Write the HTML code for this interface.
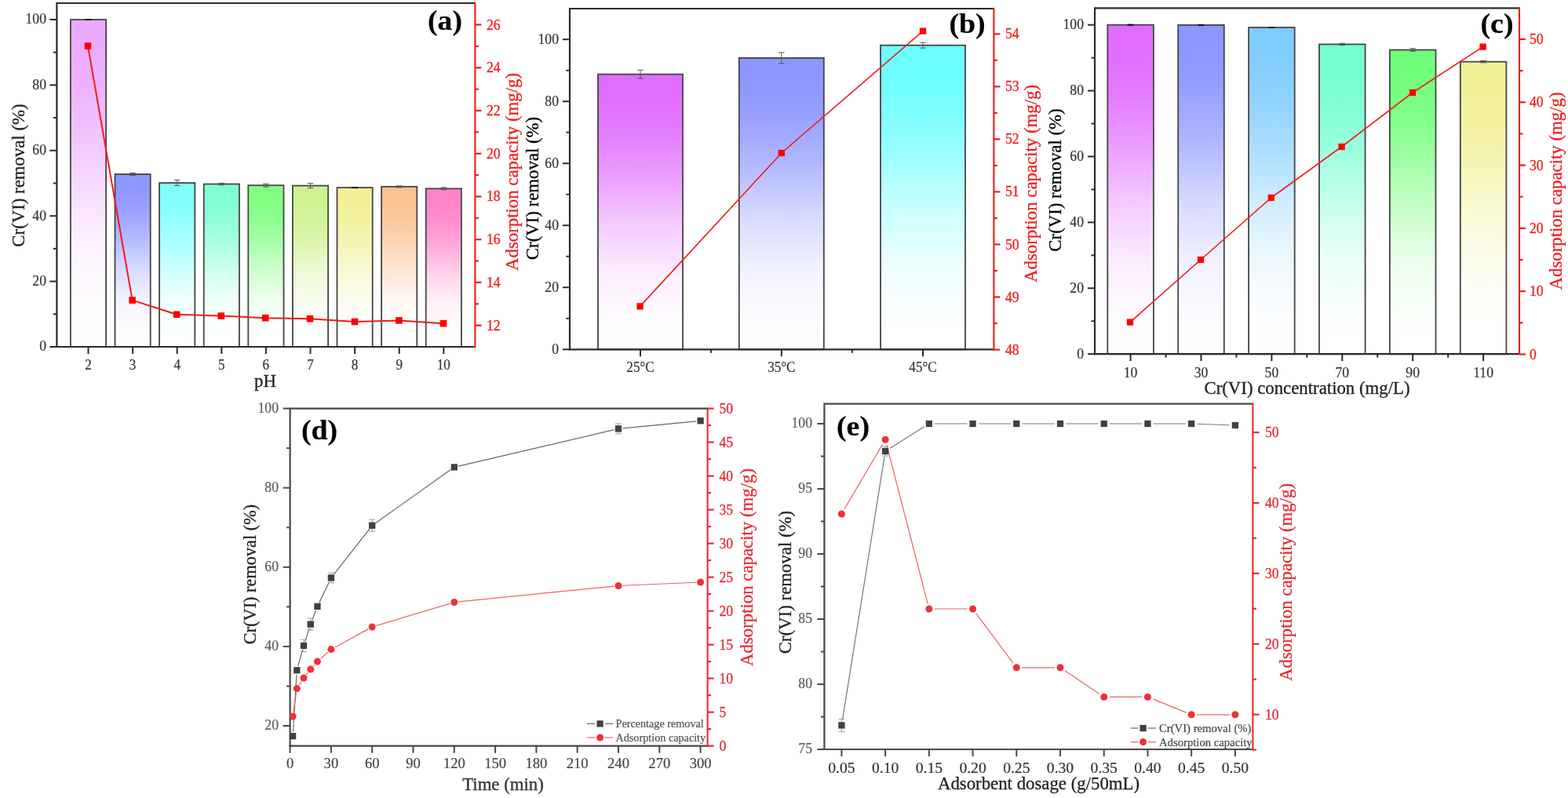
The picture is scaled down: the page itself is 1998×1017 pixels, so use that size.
<!DOCTYPE html>
<html lang="en"><head><meta charset="utf-8"><title>Cr(VI) removal and adsorption capacity</title>
<style>
html,body{margin:0;padding:0;background:#fff;}
body{width:1998px;height:1017px;overflow:hidden;font-family:"Liberation Serif","Times New Roman",serif;}
svg{display:block;}
</style></head><body>
<svg width="1998" height="1017" viewBox="0 0 1998 1017" font-family="'Liberation Serif', 'Times New Roman', serif">
<defs><linearGradient id="g1" x1="0" y1="0" x2="0" y2="1"><stop offset="0" stop-color="#ecaaff"/><stop offset="0.1" stop-color="#ecacff"/><stop offset="0.2" stop-color="#eeb2ff"/><stop offset="0.36" stop-color="#f2c5ff"/><stop offset="0.54" stop-color="#f8e0ff"/><stop offset="0.72" stop-color="#fdf5ff"/><stop offset="0.9" stop-color="#fffeff"/><stop offset="1" stop-color="#ffffff"/></linearGradient><linearGradient id="g2" x1="0" y1="0" x2="0" y2="1"><stop offset="0" stop-color="#8e96ff"/><stop offset="0.1" stop-color="#9098ff"/><stop offset="0.2" stop-color="#99a0ff"/><stop offset="0.36" stop-color="#b2b8ff"/><stop offset="0.54" stop-color="#d6d9ff"/><stop offset="0.72" stop-color="#f1f2ff"/><stop offset="0.9" stop-color="#fdfdff"/><stop offset="1" stop-color="#ffffff"/></linearGradient><linearGradient id="g3" x1="0" y1="0" x2="0" y2="1"><stop offset="0" stop-color="#80ffff"/><stop offset="0.1" stop-color="#83ffff"/><stop offset="0.2" stop-color="#8dffff"/><stop offset="0.36" stop-color="#a9ffff"/><stop offset="0.54" stop-color="#d1ffff"/><stop offset="0.72" stop-color="#f0ffff"/><stop offset="0.9" stop-color="#fdffff"/><stop offset="1" stop-color="#ffffff"/></linearGradient><linearGradient id="g4" x1="0" y1="0" x2="0" y2="1"><stop offset="0" stop-color="#80ffd2"/><stop offset="0.1" stop-color="#83ffd3"/><stop offset="0.2" stop-color="#8dffd6"/><stop offset="0.36" stop-color="#a9ffe0"/><stop offset="0.54" stop-color="#d1ffef"/><stop offset="0.72" stop-color="#f0fffa"/><stop offset="0.9" stop-color="#fdfffe"/><stop offset="1" stop-color="#ffffff"/></linearGradient><linearGradient id="g5" x1="0" y1="0" x2="0" y2="1"><stop offset="0" stop-color="#80ff80"/><stop offset="0.1" stop-color="#83ff83"/><stop offset="0.2" stop-color="#8dff8d"/><stop offset="0.36" stop-color="#a9ffa9"/><stop offset="0.54" stop-color="#d1ffd1"/><stop offset="0.72" stop-color="#f0fff0"/><stop offset="0.9" stop-color="#fdfffd"/><stop offset="1" stop-color="#ffffff"/></linearGradient><linearGradient id="g6" x1="0" y1="0" x2="0" y2="1"><stop offset="0" stop-color="#cdf28e"/><stop offset="0.1" stop-color="#cef290"/><stop offset="0.2" stop-color="#d2f399"/><stop offset="0.36" stop-color="#ddf6b2"/><stop offset="0.54" stop-color="#edfad6"/><stop offset="0.72" stop-color="#f9fdf1"/><stop offset="0.9" stop-color="#fefffd"/><stop offset="1" stop-color="#ffffff"/></linearGradient><linearGradient id="g7" x1="0" y1="0" x2="0" y2="1"><stop offset="0" stop-color="#f2f096"/><stop offset="0.1" stop-color="#f2f098"/><stop offset="0.2" stop-color="#f3f2a0"/><stop offset="0.36" stop-color="#f6f5b8"/><stop offset="0.54" stop-color="#fafad9"/><stop offset="0.72" stop-color="#fdfdf2"/><stop offset="0.9" stop-color="#fffffd"/><stop offset="1" stop-color="#ffffff"/></linearGradient><linearGradient id="g8" x1="0" y1="0" x2="0" y2="1"><stop offset="0" stop-color="#f9c291"/><stop offset="0.1" stop-color="#f9c393"/><stop offset="0.2" stop-color="#fac89c"/><stop offset="0.36" stop-color="#fbd6b4"/><stop offset="0.54" stop-color="#fde9d7"/><stop offset="0.72" stop-color="#fef8f2"/><stop offset="0.9" stop-color="#fffefd"/><stop offset="1" stop-color="#ffffff"/></linearGradient><linearGradient id="g9" x1="0" y1="0" x2="0" y2="1"><stop offset="0" stop-color="#ff82c8"/><stop offset="0.1" stop-color="#ff84c9"/><stop offset="0.2" stop-color="#ff8ece"/><stop offset="0.36" stop-color="#ffaada"/><stop offset="0.54" stop-color="#ffd2eb"/><stop offset="0.72" stop-color="#fff0f8"/><stop offset="0.9" stop-color="#fffdfe"/><stop offset="1" stop-color="#ffffff"/></linearGradient><linearGradient id="g10" x1="0" y1="0" x2="0" y2="1"><stop offset="0" stop-color="#e06cff"/><stop offset="0.1" stop-color="#e16fff"/><stop offset="0.2" stop-color="#e37bff"/><stop offset="0.36" stop-color="#ea9bff"/><stop offset="0.54" stop-color="#f4caff"/><stop offset="0.72" stop-color="#fbedff"/><stop offset="0.9" stop-color="#fffdff"/><stop offset="1" stop-color="#ffffff"/></linearGradient><linearGradient id="g11" x1="0" y1="0" x2="0" y2="1"><stop offset="0" stop-color="#8c96ff"/><stop offset="0.1" stop-color="#8e98ff"/><stop offset="0.2" stop-color="#98a0ff"/><stop offset="0.36" stop-color="#b1b8ff"/><stop offset="0.54" stop-color="#d6d9ff"/><stop offset="0.72" stop-color="#f1f2ff"/><stop offset="0.9" stop-color="#fdfdff"/><stop offset="1" stop-color="#ffffff"/></linearGradient><linearGradient id="g12" x1="0" y1="0" x2="0" y2="1"><stop offset="0" stop-color="#6cffff"/><stop offset="0.1" stop-color="#6fffff"/><stop offset="0.2" stop-color="#7bffff"/><stop offset="0.36" stop-color="#9bffff"/><stop offset="0.54" stop-color="#caffff"/><stop offset="0.72" stop-color="#edffff"/><stop offset="0.9" stop-color="#fdffff"/><stop offset="1" stop-color="#ffffff"/></linearGradient><linearGradient id="g13" x1="0" y1="0" x2="0" y2="1"><stop offset="0" stop-color="#e06cff"/><stop offset="0.1" stop-color="#e16fff"/><stop offset="0.2" stop-color="#e37bff"/><stop offset="0.36" stop-color="#ea9bff"/><stop offset="0.54" stop-color="#f4caff"/><stop offset="0.72" stop-color="#fbedff"/><stop offset="0.9" stop-color="#fffdff"/><stop offset="1" stop-color="#ffffff"/></linearGradient><linearGradient id="g14" x1="0" y1="0" x2="0" y2="1"><stop offset="0" stop-color="#8c96ff"/><stop offset="0.1" stop-color="#8e98ff"/><stop offset="0.2" stop-color="#98a0ff"/><stop offset="0.36" stop-color="#b1b8ff"/><stop offset="0.54" stop-color="#d6d9ff"/><stop offset="0.72" stop-color="#f1f2ff"/><stop offset="0.9" stop-color="#fdfdff"/><stop offset="1" stop-color="#ffffff"/></linearGradient><linearGradient id="g15" x1="0" y1="0" x2="0" y2="1"><stop offset="0" stop-color="#80ccff"/><stop offset="0.1" stop-color="#83cdff"/><stop offset="0.2" stop-color="#8dd1ff"/><stop offset="0.36" stop-color="#a9dcff"/><stop offset="0.54" stop-color="#d1edff"/><stop offset="0.72" stop-color="#f0f9ff"/><stop offset="0.9" stop-color="#fdfeff"/><stop offset="1" stop-color="#ffffff"/></linearGradient><linearGradient id="g16" x1="0" y1="0" x2="0" y2="1"><stop offset="0" stop-color="#74ffd0"/><stop offset="0.1" stop-color="#77ffd1"/><stop offset="0.2" stop-color="#82ffd5"/><stop offset="0.36" stop-color="#a0ffdf"/><stop offset="0.54" stop-color="#cdffee"/><stop offset="0.72" stop-color="#eefff9"/><stop offset="0.9" stop-color="#fdfffe"/><stop offset="1" stop-color="#ffffff"/></linearGradient><linearGradient id="g17" x1="0" y1="0" x2="0" y2="1"><stop offset="0" stop-color="#70ff78"/><stop offset="0.1" stop-color="#73ff7b"/><stop offset="0.2" stop-color="#7eff86"/><stop offset="0.36" stop-color="#9effa3"/><stop offset="0.54" stop-color="#ccffce"/><stop offset="0.72" stop-color="#eeffef"/><stop offset="0.9" stop-color="#fdfffd"/><stop offset="1" stop-color="#ffffff"/></linearGradient><linearGradient id="g18" x1="0" y1="0" x2="0" y2="1"><stop offset="0" stop-color="#f2f096"/><stop offset="0.1" stop-color="#f2f098"/><stop offset="0.2" stop-color="#f3f2a0"/><stop offset="0.36" stop-color="#f6f5b8"/><stop offset="0.54" stop-color="#fafad9"/><stop offset="0.72" stop-color="#fdfdf2"/><stop offset="0.9" stop-color="#fffffd"/><stop offset="1" stop-color="#ffffff"/></linearGradient><filter id="b5" filterUnits="userSpaceOnUse" x="0" y="0" width="1998" height="1017"><feGaussianBlur stdDeviation="0.5"/></filter><filter id="b4" filterUnits="userSpaceOnUse" x="0" y="0" width="1998" height="1017"><feGaussianBlur stdDeviation="0.55"/></filter><filter id="b3" filterUnits="userSpaceOnUse" x="0" y="0" width="1998" height="1017"><feGaussianBlur stdDeviation="0.6"/></filter><filter id="b1" filterUnits="userSpaceOnUse" x="0" y="0" width="1998" height="1017"><feGaussianBlur stdDeviation="0.75"/></filter><filter id="b2" filterUnits="userSpaceOnUse" x="0" y="0" width="1998" height="1017"><feGaussianBlur stdDeviation="0.45"/></filter></defs>
<rect x="0" y="0" width="1998" height="1017" fill="#ffffff"/>
<g filter="url(#b1)">
<rect x="89.9" y="25" width="45.2" height="417" fill="url(#g1)" stroke="#444444" stroke-width="1.8"/>
<rect x="146.5" y="222.03" width="45.2" height="219.97" fill="url(#g2)" stroke="#444444" stroke-width="1.8"/>
<rect x="203.1" y="233.08" width="45.2" height="208.92" fill="url(#g3)" stroke="#444444" stroke-width="1.8"/>
<rect x="259.7" y="234.54" width="45.2" height="207.46" fill="url(#g4)" stroke="#444444" stroke-width="1.8"/>
<rect x="316.3" y="236.21" width="45.2" height="205.79" fill="url(#g5)" stroke="#444444" stroke-width="1.8"/>
<rect x="372.9" y="236.63" width="45.2" height="205.37" fill="url(#g6)" stroke="#444444" stroke-width="1.8"/>
<rect x="429.5" y="239.13" width="45.2" height="202.87" fill="url(#g7)" stroke="#444444" stroke-width="1.8"/>
<rect x="486.1" y="237.88" width="45.2" height="204.12" fill="url(#g8)" stroke="#444444" stroke-width="1.8"/>
<rect x="542.7" y="240.38" width="45.2" height="201.62" fill="url(#g9)" stroke="#444444" stroke-width="1.8"/>
<line x1="108.5" y1="25" x2="116.5" y2="25" stroke="#111" stroke-width="2"/>
<line x1="169.1" y1="220.53" x2="169.1" y2="223.53" stroke="#555" stroke-width="1"/>
<line x1="165.35" y1="220.53" x2="172.85" y2="220.53" stroke="#555" stroke-width="1"/>
<line x1="165.35" y1="223.53" x2="172.85" y2="223.53" stroke="#555" stroke-width="1"/>
<line x1="225.7" y1="229.58" x2="225.7" y2="236.58" stroke="#555" stroke-width="1"/>
<line x1="221.95" y1="229.58" x2="229.45" y2="229.58" stroke="#555" stroke-width="1"/>
<line x1="221.95" y1="236.58" x2="229.45" y2="236.58" stroke="#555" stroke-width="1"/>
<line x1="282.3" y1="233.34" x2="282.3" y2="235.74" stroke="#555" stroke-width="1"/>
<line x1="278.55" y1="233.34" x2="286.05" y2="233.34" stroke="#555" stroke-width="1"/>
<line x1="278.55" y1="235.74" x2="286.05" y2="235.74" stroke="#555" stroke-width="1"/>
<line x1="338.9" y1="234.21" x2="338.9" y2="238.21" stroke="#555" stroke-width="1"/>
<line x1="335.15" y1="234.21" x2="342.65" y2="234.21" stroke="#555" stroke-width="1"/>
<line x1="335.15" y1="238.21" x2="342.65" y2="238.21" stroke="#555" stroke-width="1"/>
<line x1="395.5" y1="233.63" x2="395.5" y2="239.63" stroke="#555" stroke-width="1"/>
<line x1="391.75" y1="233.63" x2="399.25" y2="233.63" stroke="#555" stroke-width="1"/>
<line x1="391.75" y1="239.63" x2="399.25" y2="239.63" stroke="#555" stroke-width="1"/>
<line x1="448.1" y1="239.13" x2="456.1" y2="239.13" stroke="#111" stroke-width="2"/>
<line x1="508.7" y1="236.88" x2="508.7" y2="238.88" stroke="#555" stroke-width="1"/>
<line x1="504.95" y1="236.88" x2="512.45" y2="236.88" stroke="#555" stroke-width="1"/>
<line x1="504.95" y1="238.88" x2="512.45" y2="238.88" stroke="#555" stroke-width="1"/>
<line x1="565.3" y1="238.88" x2="565.3" y2="241.88" stroke="#555" stroke-width="1"/>
<line x1="561.55" y1="238.88" x2="569.05" y2="238.88" stroke="#555" stroke-width="1"/>
<line x1="561.55" y1="241.88" x2="569.05" y2="241.88" stroke="#555" stroke-width="1"/>
<line x1="72.4" y1="4" x2="605.4" y2="4" stroke="#2c2c2c" stroke-width="2.2"/>
<line x1="71.3" y1="442" x2="605.4" y2="442" stroke="#2c2c2c" stroke-width="2.2"/>
<line x1="72.4" y1="2.9" x2="72.4" y2="443.1" stroke="#2c2c2c" stroke-width="2.2"/>
<line x1="63.4" y1="442" x2="72.4" y2="442" stroke="#2c2c2c" stroke-width="2"/>
<line x1="67.9" y1="400.3" x2="72.4" y2="400.3" stroke="#2c2c2c" stroke-width="2"/>
<line x1="63.4" y1="358.6" x2="72.4" y2="358.6" stroke="#2c2c2c" stroke-width="2"/>
<line x1="67.9" y1="316.9" x2="72.4" y2="316.9" stroke="#2c2c2c" stroke-width="2"/>
<line x1="63.4" y1="275.2" x2="72.4" y2="275.2" stroke="#2c2c2c" stroke-width="2"/>
<line x1="67.9" y1="233.5" x2="72.4" y2="233.5" stroke="#2c2c2c" stroke-width="2"/>
<line x1="63.4" y1="191.8" x2="72.4" y2="191.8" stroke="#2c2c2c" stroke-width="2"/>
<line x1="67.9" y1="150.1" x2="72.4" y2="150.1" stroke="#2c2c2c" stroke-width="2"/>
<line x1="63.4" y1="108.4" x2="72.4" y2="108.4" stroke="#2c2c2c" stroke-width="2"/>
<line x1="67.9" y1="66.7" x2="72.4" y2="66.7" stroke="#2c2c2c" stroke-width="2"/>
<line x1="63.4" y1="25" x2="72.4" y2="25" stroke="#2c2c2c" stroke-width="2"/>
<line x1="112.5" y1="442" x2="112.5" y2="451" stroke="#2c2c2c" stroke-width="2"/>
<line x1="169.1" y1="442" x2="169.1" y2="451" stroke="#2c2c2c" stroke-width="2"/>
<line x1="225.7" y1="442" x2="225.7" y2="451" stroke="#2c2c2c" stroke-width="2"/>
<line x1="282.3" y1="442" x2="282.3" y2="451" stroke="#2c2c2c" stroke-width="2"/>
<line x1="338.9" y1="442" x2="338.9" y2="451" stroke="#2c2c2c" stroke-width="2"/>
<line x1="395.5" y1="442" x2="395.5" y2="451" stroke="#2c2c2c" stroke-width="2"/>
<line x1="452.1" y1="442" x2="452.1" y2="451" stroke="#2c2c2c" stroke-width="2"/>
<line x1="508.7" y1="442" x2="508.7" y2="451" stroke="#2c2c2c" stroke-width="2"/>
<line x1="565.3" y1="442" x2="565.3" y2="451" stroke="#2c2c2c" stroke-width="2"/>
<rect x="762" y="94.65" width="108" height="350.65" fill="url(#g10)" stroke="#444444" stroke-width="1.8"/>
<rect x="941.8" y="73.91" width="108" height="371.39" fill="url(#g11)" stroke="#444444" stroke-width="1.8"/>
<rect x="1122" y="57.71" width="108" height="387.59" fill="url(#g12)" stroke="#444444" stroke-width="1.8"/>
<line x1="816" y1="89.35" x2="816" y2="99.95" stroke="#555" stroke-width="1"/>
<line x1="812.25" y1="89.35" x2="819.75" y2="89.35" stroke="#555" stroke-width="1"/>
<line x1="812.25" y1="99.95" x2="819.75" y2="99.95" stroke="#555" stroke-width="1"/>
<line x1="995.8" y1="67.01" x2="995.8" y2="80.81" stroke="#555" stroke-width="1"/>
<line x1="992.05" y1="67.01" x2="999.55" y2="67.01" stroke="#555" stroke-width="1"/>
<line x1="992.05" y1="80.81" x2="999.55" y2="80.81" stroke="#555" stroke-width="1"/>
<line x1="1176" y1="54.21" x2="1176" y2="61.21" stroke="#555" stroke-width="1"/>
<line x1="1172.25" y1="54.21" x2="1179.75" y2="54.21" stroke="#555" stroke-width="1"/>
<line x1="1172.25" y1="61.21" x2="1179.75" y2="61.21" stroke="#555" stroke-width="1"/>
<line x1="726" y1="11" x2="1266.4" y2="11" stroke="#2c2c2c" stroke-width="2.2"/>
<line x1="724.9" y1="445.3" x2="1266.4" y2="445.3" stroke="#2c2c2c" stroke-width="2.2"/>
<line x1="726" y1="9.9" x2="726" y2="446.4" stroke="#2c2c2c" stroke-width="2.2"/>
<line x1="717" y1="445.3" x2="726" y2="445.3" stroke="#2c2c2c" stroke-width="2"/>
<line x1="721.5" y1="405.79" x2="726" y2="405.79" stroke="#2c2c2c" stroke-width="2"/>
<line x1="717" y1="366.28" x2="726" y2="366.28" stroke="#2c2c2c" stroke-width="2"/>
<line x1="721.5" y1="326.77" x2="726" y2="326.77" stroke="#2c2c2c" stroke-width="2"/>
<line x1="717" y1="287.26" x2="726" y2="287.26" stroke="#2c2c2c" stroke-width="2"/>
<line x1="721.5" y1="247.75" x2="726" y2="247.75" stroke="#2c2c2c" stroke-width="2"/>
<line x1="717" y1="208.24" x2="726" y2="208.24" stroke="#2c2c2c" stroke-width="2"/>
<line x1="721.5" y1="168.73" x2="726" y2="168.73" stroke="#2c2c2c" stroke-width="2"/>
<line x1="717" y1="129.22" x2="726" y2="129.22" stroke="#2c2c2c" stroke-width="2"/>
<line x1="721.5" y1="89.71" x2="726" y2="89.71" stroke="#2c2c2c" stroke-width="2"/>
<line x1="717" y1="50.2" x2="726" y2="50.2" stroke="#2c2c2c" stroke-width="2"/>
<line x1="816" y1="445.3" x2="816" y2="454.3" stroke="#2c2c2c" stroke-width="2"/>
<line x1="905.9" y1="445.3" x2="905.9" y2="449.8" stroke="#2c2c2c" stroke-width="2"/>
<line x1="995.8" y1="445.3" x2="995.8" y2="454.3" stroke="#2c2c2c" stroke-width="2"/>
<line x1="1085.9" y1="445.3" x2="1085.9" y2="449.8" stroke="#2c2c2c" stroke-width="2"/>
<line x1="1176" y1="445.3" x2="1176" y2="454.3" stroke="#2c2c2c" stroke-width="2"/>
<rect x="1411.3" y="31.7" width="58.6" height="419.5" fill="url(#g13)" stroke="#444444" stroke-width="1.8"/>
<rect x="1501.2" y="31.91" width="58.6" height="419.29" fill="url(#g14)" stroke="#444444" stroke-width="1.8"/>
<rect x="1591.1" y="35.06" width="58.6" height="416.14" fill="url(#g15)" stroke="#444444" stroke-width="1.8"/>
<rect x="1681" y="56.45" width="58.6" height="394.75" fill="url(#g16)" stroke="#444444" stroke-width="1.8"/>
<rect x="1770.9" y="63.58" width="58.6" height="387.62" fill="url(#g17)" stroke="#444444" stroke-width="1.8"/>
<rect x="1860.8" y="78.68" width="58.6" height="372.52" fill="url(#g18)" stroke="#444444" stroke-width="1.8"/>
<line x1="1436.6" y1="31.7" x2="1444.6" y2="31.7" stroke="#111" stroke-width="2"/>
<line x1="1526.5" y1="31.91" x2="1534.5" y2="31.91" stroke="#111" stroke-width="2"/>
<line x1="1616.4" y1="35.06" x2="1624.4" y2="35.06" stroke="#111" stroke-width="2"/>
<line x1="1710.3" y1="55.25" x2="1710.3" y2="57.65" stroke="#555" stroke-width="1"/>
<line x1="1706.55" y1="55.25" x2="1714.05" y2="55.25" stroke="#555" stroke-width="1"/>
<line x1="1706.55" y1="57.65" x2="1714.05" y2="57.65" stroke="#555" stroke-width="1"/>
<line x1="1800.2" y1="61.78" x2="1800.2" y2="65.38" stroke="#555" stroke-width="1"/>
<line x1="1796.45" y1="61.78" x2="1803.95" y2="61.78" stroke="#555" stroke-width="1"/>
<line x1="1796.45" y1="65.38" x2="1803.95" y2="65.38" stroke="#555" stroke-width="1"/>
<line x1="1890.1" y1="77.48" x2="1890.1" y2="79.88" stroke="#555" stroke-width="1"/>
<line x1="1886.35" y1="77.48" x2="1893.85" y2="77.48" stroke="#555" stroke-width="1"/>
<line x1="1886.35" y1="79.88" x2="1893.85" y2="79.88" stroke="#555" stroke-width="1"/>
<line x1="1395" y1="10.4" x2="1936" y2="10.4" stroke="#2c2c2c" stroke-width="2.2"/>
<line x1="1393.9" y1="451.2" x2="1936" y2="451.2" stroke="#2c2c2c" stroke-width="2.2"/>
<line x1="1395" y1="9.3" x2="1395" y2="452.3" stroke="#2c2c2c" stroke-width="2.2"/>
<line x1="1386" y1="451.2" x2="1395" y2="451.2" stroke="#2c2c2c" stroke-width="2"/>
<line x1="1390.5" y1="409.25" x2="1395" y2="409.25" stroke="#2c2c2c" stroke-width="2"/>
<line x1="1386" y1="367.3" x2="1395" y2="367.3" stroke="#2c2c2c" stroke-width="2"/>
<line x1="1390.5" y1="325.35" x2="1395" y2="325.35" stroke="#2c2c2c" stroke-width="2"/>
<line x1="1386" y1="283.4" x2="1395" y2="283.4" stroke="#2c2c2c" stroke-width="2"/>
<line x1="1390.5" y1="241.45" x2="1395" y2="241.45" stroke="#2c2c2c" stroke-width="2"/>
<line x1="1386" y1="199.5" x2="1395" y2="199.5" stroke="#2c2c2c" stroke-width="2"/>
<line x1="1390.5" y1="157.55" x2="1395" y2="157.55" stroke="#2c2c2c" stroke-width="2"/>
<line x1="1386" y1="115.6" x2="1395" y2="115.6" stroke="#2c2c2c" stroke-width="2"/>
<line x1="1390.5" y1="73.65" x2="1395" y2="73.65" stroke="#2c2c2c" stroke-width="2"/>
<line x1="1386" y1="31.7" x2="1395" y2="31.7" stroke="#2c2c2c" stroke-width="2"/>
<line x1="1440.6" y1="451.2" x2="1440.6" y2="460.2" stroke="#2c2c2c" stroke-width="2"/>
<line x1="1485.56" y1="451.2" x2="1485.56" y2="455.7" stroke="#2c2c2c" stroke-width="2"/>
<line x1="1530.5" y1="451.2" x2="1530.5" y2="460.2" stroke="#2c2c2c" stroke-width="2"/>
<line x1="1575.46" y1="451.2" x2="1575.46" y2="455.7" stroke="#2c2c2c" stroke-width="2"/>
<line x1="1620.4" y1="451.2" x2="1620.4" y2="460.2" stroke="#2c2c2c" stroke-width="2"/>
<line x1="1665.36" y1="451.2" x2="1665.36" y2="455.7" stroke="#2c2c2c" stroke-width="2"/>
<line x1="1710.3" y1="451.2" x2="1710.3" y2="460.2" stroke="#2c2c2c" stroke-width="2"/>
<line x1="1755.26" y1="451.2" x2="1755.26" y2="455.7" stroke="#2c2c2c" stroke-width="2"/>
<line x1="1800.2" y1="451.2" x2="1800.2" y2="460.2" stroke="#2c2c2c" stroke-width="2"/>
<line x1="1845.16" y1="451.2" x2="1845.16" y2="455.7" stroke="#2c2c2c" stroke-width="2"/>
<line x1="1890.1" y1="451.2" x2="1890.1" y2="460.2" stroke="#2c2c2c" stroke-width="2"/>
<line x1="369.6" y1="520.6" x2="901.6" y2="520.6" stroke="#484848" stroke-width="2.2"/>
<line x1="368.5" y1="950.6" x2="901.6" y2="950.6" stroke="#484848" stroke-width="2.2"/>
<line x1="369.6" y1="519.5" x2="369.6" y2="951.7" stroke="#484848" stroke-width="2.2"/>
<line x1="360.6" y1="925" x2="369.6" y2="925" stroke="#484848" stroke-width="2"/>
<line x1="365.1" y1="874.45" x2="369.6" y2="874.45" stroke="#484848" stroke-width="2"/>
<line x1="360.6" y1="823.9" x2="369.6" y2="823.9" stroke="#484848" stroke-width="2"/>
<line x1="365.1" y1="773.35" x2="369.6" y2="773.35" stroke="#484848" stroke-width="2"/>
<line x1="360.6" y1="722.8" x2="369.6" y2="722.8" stroke="#484848" stroke-width="2"/>
<line x1="365.1" y1="672.25" x2="369.6" y2="672.25" stroke="#484848" stroke-width="2"/>
<line x1="360.6" y1="621.7" x2="369.6" y2="621.7" stroke="#484848" stroke-width="2"/>
<line x1="365.1" y1="571.15" x2="369.6" y2="571.15" stroke="#484848" stroke-width="2"/>
<line x1="360.6" y1="520.6" x2="369.6" y2="520.6" stroke="#484848" stroke-width="2"/>
<line x1="369.6" y1="950.6" x2="369.6" y2="959.6" stroke="#484848" stroke-width="2"/>
<line x1="421.9" y1="950.6" x2="421.9" y2="959.6" stroke="#484848" stroke-width="2"/>
<line x1="474.2" y1="950.6" x2="474.2" y2="959.6" stroke="#484848" stroke-width="2"/>
<line x1="526.5" y1="950.6" x2="526.5" y2="959.6" stroke="#484848" stroke-width="2"/>
<line x1="578.8" y1="950.6" x2="578.8" y2="959.6" stroke="#484848" stroke-width="2"/>
<line x1="631.1" y1="950.6" x2="631.1" y2="959.6" stroke="#484848" stroke-width="2"/>
<line x1="683.39" y1="950.6" x2="683.39" y2="959.6" stroke="#484848" stroke-width="2"/>
<line x1="735.69" y1="950.6" x2="735.69" y2="959.6" stroke="#484848" stroke-width="2"/>
<line x1="787.99" y1="950.6" x2="787.99" y2="959.6" stroke="#484848" stroke-width="2"/>
<line x1="840.29" y1="950.6" x2="840.29" y2="959.6" stroke="#484848" stroke-width="2"/>
<line x1="892.59" y1="950.6" x2="892.59" y2="959.6" stroke="#484848" stroke-width="2"/>
<line x1="1050.4" y1="514.6" x2="1596.4" y2="514.6" stroke="#484848" stroke-width="2.2"/>
<line x1="1049.3" y1="955" x2="1596.4" y2="955" stroke="#484848" stroke-width="2.2"/>
<line x1="1050.4" y1="513.5" x2="1050.4" y2="956.1" stroke="#484848" stroke-width="2.2"/>
<line x1="1041.4" y1="955" x2="1050.4" y2="955" stroke="#484848" stroke-width="2"/>
<line x1="1045.9" y1="913.5" x2="1050.4" y2="913.5" stroke="#484848" stroke-width="2"/>
<line x1="1041.4" y1="872" x2="1050.4" y2="872" stroke="#484848" stroke-width="2"/>
<line x1="1045.9" y1="830.5" x2="1050.4" y2="830.5" stroke="#484848" stroke-width="2"/>
<line x1="1041.4" y1="789" x2="1050.4" y2="789" stroke="#484848" stroke-width="2"/>
<line x1="1045.9" y1="747.5" x2="1050.4" y2="747.5" stroke="#484848" stroke-width="2"/>
<line x1="1041.4" y1="706" x2="1050.4" y2="706" stroke="#484848" stroke-width="2"/>
<line x1="1045.9" y1="664.5" x2="1050.4" y2="664.5" stroke="#484848" stroke-width="2"/>
<line x1="1041.4" y1="623" x2="1050.4" y2="623" stroke="#484848" stroke-width="2"/>
<line x1="1045.9" y1="581.5" x2="1050.4" y2="581.5" stroke="#484848" stroke-width="2"/>
<line x1="1041.4" y1="540" x2="1050.4" y2="540" stroke="#484848" stroke-width="2"/>
<line x1="1072.4" y1="955" x2="1072.4" y2="964" stroke="#484848" stroke-width="2"/>
<line x1="1128.12" y1="955" x2="1128.12" y2="964" stroke="#484848" stroke-width="2"/>
<line x1="1183.84" y1="955" x2="1183.84" y2="964" stroke="#484848" stroke-width="2"/>
<line x1="1239.56" y1="955" x2="1239.56" y2="964" stroke="#484848" stroke-width="2"/>
<line x1="1295.28" y1="955" x2="1295.28" y2="964" stroke="#484848" stroke-width="2"/>
<line x1="1351" y1="955" x2="1351" y2="964" stroke="#484848" stroke-width="2"/>
<line x1="1406.72" y1="955" x2="1406.72" y2="964" stroke="#484848" stroke-width="2"/>
<line x1="1462.44" y1="955" x2="1462.44" y2="964" stroke="#484848" stroke-width="2"/>
<line x1="1518.16" y1="955" x2="1518.16" y2="964" stroke="#484848" stroke-width="2"/>
<line x1="1573.88" y1="955" x2="1573.88" y2="964" stroke="#484848" stroke-width="2"/>
</g>
<g filter="url(#b5)">
<polyline points="112,58.6 168.6,382.6 225.2,400.8 281.8,402.6 338.2,405.2 395,406.2 452,410 508.4,408.4 565,412.2" fill="none" stroke="#f01c1c" stroke-width="2" stroke-linejoin="round"/>
<rect x="107.7" y="54.3" width="8.6" height="8.6" fill="#ff0000"/>
<rect x="164.3" y="378.3" width="8.6" height="8.6" fill="#ff0000"/>
<rect x="220.9" y="396.5" width="8.6" height="8.6" fill="#ff0000"/>
<rect x="277.5" y="398.3" width="8.6" height="8.6" fill="#ff0000"/>
<rect x="333.9" y="400.9" width="8.6" height="8.6" fill="#ff0000"/>
<rect x="390.7" y="401.9" width="8.6" height="8.6" fill="#ff0000"/>
<rect x="447.7" y="405.7" width="8.6" height="8.6" fill="#ff0000"/>
<rect x="504.1" y="404.1" width="8.6" height="8.6" fill="#ff0000"/>
<rect x="560.7" y="407.9" width="8.6" height="8.6" fill="#ff0000"/>
<polyline points="815.6,390.4 995.8,195 1176,39.6" fill="none" stroke="#f01c1c" stroke-width="1.6" stroke-linejoin="round"/>
<rect x="811.45" y="386.25" width="8.3" height="8.3" fill="#ff0000"/>
<rect x="991.65" y="190.85" width="8.3" height="8.3" fill="#ff0000"/>
<rect x="1171.85" y="35.45" width="8.3" height="8.3" fill="#ff0000"/>
<polyline points="1440,410.6 1530,331 1619.8,252 1709.6,187 1800,118 1889.6,59.6" fill="none" stroke="#f01c1c" stroke-width="1.6" stroke-linejoin="round"/>
<rect x="1435.85" y="406.45" width="8.3" height="8.3" fill="#ff0000"/>
<rect x="1525.85" y="326.85" width="8.3" height="8.3" fill="#ff0000"/>
<rect x="1615.65" y="247.85" width="8.3" height="8.3" fill="#ff0000"/>
<rect x="1705.45" y="182.85" width="8.3" height="8.3" fill="#ff0000"/>
<rect x="1795.85" y="113.85" width="8.3" height="8.3" fill="#ff0000"/>
<rect x="1885.45" y="55.45" width="8.3" height="8.3" fill="#ff0000"/>
<line x1="373.43" y1="932.65" x2="377.97" y2="859.72" stroke="#666" stroke-width="1.2"/>
<line x1="379.79" y1="848.93" x2="385.56" y2="828.19" stroke="#666" stroke-width="1.2"/>
<line x1="388.71" y1="817.65" x2="394.08" y2="800.83" stroke="#666" stroke-width="1.2"/>
<line x1="397.72" y1="790.46" x2="402.5" y2="777.98" stroke="#666" stroke-width="1.2"/>
<line x1="406.84" y1="767.88" x2="419.52" y2="741.41" stroke="#666" stroke-width="1.2"/>
<line x1="425.29" y1="732.12" x2="470.81" y2="674.05" stroke="#666" stroke-width="1.2"/>
<line x1="478.68" y1="666.54" x2="574.31" y2="598.6" stroke="#666" stroke-width="1.2"/>
<line x1="584.15" y1="594.16" x2="782.64" y2="547.64" stroke="#666" stroke-width="1.2"/>
<line x1="793.47" y1="545.85" x2="887.12" y2="536.8" stroke="#666" stroke-width="1.2"/>
<line x1="387.03" y1="815.31" x2="387.03" y2="830.47" stroke="#a0a0a0" stroke-width="1"/>
<line x1="383.03" y1="815.31" x2="391.03" y2="815.31" stroke="#a0a0a0" stroke-width="1"/>
<line x1="383.03" y1="830.47" x2="391.03" y2="830.47" stroke="#a0a0a0" stroke-width="1"/>
<line x1="395.75" y1="788.01" x2="395.75" y2="803.17" stroke="#a0a0a0" stroke-width="1"/>
<line x1="391.75" y1="788.01" x2="399.75" y2="788.01" stroke="#a0a0a0" stroke-width="1"/>
<line x1="391.75" y1="803.17" x2="399.75" y2="803.17" stroke="#a0a0a0" stroke-width="1"/>
<line x1="421.9" y1="730.13" x2="421.9" y2="742.77" stroke="#a0a0a0" stroke-width="1"/>
<line x1="417.9" y1="730.13" x2="425.9" y2="730.13" stroke="#a0a0a0" stroke-width="1"/>
<line x1="417.9" y1="742.77" x2="425.9" y2="742.77" stroke="#a0a0a0" stroke-width="1"/>
<line x1="474.2" y1="662.14" x2="474.2" y2="677.31" stroke="#a0a0a0" stroke-width="1"/>
<line x1="470.2" y1="662.14" x2="478.2" y2="662.14" stroke="#a0a0a0" stroke-width="1"/>
<line x1="470.2" y1="677.31" x2="478.2" y2="677.31" stroke="#a0a0a0" stroke-width="1"/>
<line x1="787.99" y1="540.06" x2="787.99" y2="552.7" stroke="#a0a0a0" stroke-width="1"/>
<line x1="783.99" y1="540.06" x2="791.99" y2="540.06" stroke="#a0a0a0" stroke-width="1"/>
<line x1="783.99" y1="552.7" x2="791.99" y2="552.7" stroke="#a0a0a0" stroke-width="1"/>
<rect x="368.94" y="933.99" width="8.3" height="8.3" fill="#404040"/>
<rect x="374.17" y="850.08" width="8.3" height="8.3" fill="#404040"/>
<rect x="382.88" y="818.74" width="8.3" height="8.3" fill="#404040"/>
<rect x="391.6" y="791.44" width="8.3" height="8.3" fill="#404040"/>
<rect x="400.32" y="768.69" width="8.3" height="8.3" fill="#404040"/>
<rect x="417.75" y="732.3" width="8.3" height="8.3" fill="#404040"/>
<rect x="470.05" y="665.57" width="8.3" height="8.3" fill="#404040"/>
<rect x="574.65" y="591.26" width="8.3" height="8.3" fill="#404040"/>
<rect x="783.84" y="542.23" width="8.3" height="8.3" fill="#404040"/>
<rect x="888.44" y="532.12" width="8.3" height="8.3" fill="#404040"/>
<line x1="373.89" y1="907.56" x2="377.51" y2="883.04" stroke="#f06065" stroke-width="1.2"/>
<line x1="381.28" y1="872.97" x2="384.07" y2="868.63" stroke="#f06065" stroke-width="1.2"/>
<line x1="390.45" y1="859.69" x2="392.33" y2="857.31" stroke="#f06065" stroke-width="1.2"/>
<line x1="399.36" y1="848.85" x2="400.85" y2="847.15" stroke="#f06065" stroke-width="1.2"/>
<line x1="408.59" y1="839.36" x2="417.78" y2="831.24" stroke="#f06065" stroke-width="1.2"/>
<line x1="426.72" y1="824.96" x2="469.37" y2="801.64" stroke="#f06065" stroke-width="1.2"/>
<line x1="479.46" y1="797.41" x2="573.53" y2="769.09" stroke="#f06065" stroke-width="1.2"/>
<line x1="584.27" y1="766.95" x2="782.52" y2="747.05" stroke="#f06065" stroke-width="1.2"/>
<line x1="793.49" y1="746.26" x2="887.1" y2="742.24" stroke="#f06065" stroke-width="1.2"/>
<circle cx="373.09" cy="913" r="4.5" fill="#ec3038"/>
<circle cx="378.32" cy="877.6" r="4.5" fill="#ec3038"/>
<circle cx="387.03" cy="864" r="4.5" fill="#ec3038"/>
<circle cx="395.75" cy="853" r="4.5" fill="#ec3038"/>
<circle cx="404.47" cy="843" r="4.5" fill="#ec3038"/>
<circle cx="421.9" cy="827.6" r="4.5" fill="#ec3038"/>
<circle cx="474.2" cy="799" r="4.5" fill="#ec3038"/>
<circle cx="578.8" cy="767.5" r="4.5" fill="#ec3038"/>
<circle cx="787.99" cy="746.5" r="4.5" fill="#ec3038"/>
<circle cx="892.59" cy="742" r="4.5" fill="#ec3038"/>
<line x1="748" y1="922.4" x2="758.2" y2="922.4" stroke="#666" stroke-width="1.2"/>
<line x1="771" y1="922.4" x2="781" y2="922.4" stroke="#666" stroke-width="1.2"/>
<rect x="760.45" y="918.25" width="8.3" height="8.3" fill="#404040"/>
<line x1="748" y1="940" x2="758.2" y2="940" stroke="#f06065" stroke-width="1.2"/>
<line x1="771" y1="940" x2="781" y2="940" stroke="#f06065" stroke-width="1.2"/>
<circle cx="764.6" cy="940" r="4.5" fill="#ec3038"/>
<line x1="1073.53" y1="917.29" x2="1126.99" y2="582.11" stroke="#777" stroke-width="1.2"/>
<line x1="1134.22" y1="571.17" x2="1177.74" y2="543.83" stroke="#777" stroke-width="1.2"/>
<line x1="1191.04" y1="540" x2="1232.36" y2="540" stroke="#777" stroke-width="1.2"/>
<line x1="1246.76" y1="540" x2="1288.08" y2="540" stroke="#777" stroke-width="1.2"/>
<line x1="1302.48" y1="540" x2="1343.8" y2="540" stroke="#777" stroke-width="1.2"/>
<line x1="1358.2" y1="540" x2="1399.52" y2="540" stroke="#777" stroke-width="1.2"/>
<line x1="1413.92" y1="540" x2="1455.24" y2="540" stroke="#777" stroke-width="1.2"/>
<line x1="1469.64" y1="540" x2="1510.96" y2="540" stroke="#777" stroke-width="1.2"/>
<line x1="1525.36" y1="540.26" x2="1566.68" y2="541.74" stroke="#777" stroke-width="1.2"/>
<line x1="1072.4" y1="916.4" x2="1072.4" y2="932.4" stroke="#a0a0a0" stroke-width="1"/>
<line x1="1068.4" y1="916.4" x2="1076.4" y2="916.4" stroke="#a0a0a0" stroke-width="1"/>
<line x1="1068.4" y1="932.4" x2="1076.4" y2="932.4" stroke="#a0a0a0" stroke-width="1"/>
<line x1="1128.12" y1="569" x2="1128.12" y2="581" stroke="#a0a0a0" stroke-width="1"/>
<line x1="1124.12" y1="569" x2="1132.12" y2="569" stroke="#a0a0a0" stroke-width="1"/>
<line x1="1124.12" y1="581" x2="1132.12" y2="581" stroke="#a0a0a0" stroke-width="1"/>
<line x1="1076.05" y1="648.79" x2="1124.47" y2="566.41" stroke="#f06065" stroke-width="1.2"/>
<line x1="1129.92" y1="567.17" x2="1182.04" y2="769.03" stroke="#f06065" stroke-width="1.2"/>
<line x1="1191.04" y1="776" x2="1232.36" y2="776" stroke="#f06065" stroke-width="1.2"/>
<line x1="1243.86" y1="781.77" x2="1290.98" y2="845.03" stroke="#f06065" stroke-width="1.2"/>
<line x1="1302.48" y1="850.8" x2="1343.8" y2="850.8" stroke="#f06065" stroke-width="1.2"/>
<line x1="1356.98" y1="854.81" x2="1400.74" y2="884.19" stroke="#f06065" stroke-width="1.2"/>
<line x1="1413.92" y1="888.2" x2="1455.24" y2="888.2" stroke="#f06065" stroke-width="1.2"/>
<line x1="1469.11" y1="890.91" x2="1511.49" y2="908.09" stroke="#f06065" stroke-width="1.2"/>
<line x1="1525.36" y1="910.8" x2="1566.68" y2="910.8" stroke="#f06065" stroke-width="1.2"/>
<rect x="1068.25" y="920.25" width="8.3" height="8.3" fill="#404040"/>
<rect x="1123.97" y="570.85" width="8.3" height="8.3" fill="#404040"/>
<rect x="1179.69" y="535.85" width="8.3" height="8.3" fill="#404040"/>
<rect x="1235.41" y="535.85" width="8.3" height="8.3" fill="#404040"/>
<rect x="1291.13" y="535.85" width="8.3" height="8.3" fill="#404040"/>
<rect x="1346.85" y="535.85" width="8.3" height="8.3" fill="#404040"/>
<rect x="1402.57" y="535.85" width="8.3" height="8.3" fill="#404040"/>
<rect x="1458.29" y="535.85" width="8.3" height="8.3" fill="#404040"/>
<rect x="1514.01" y="535.85" width="8.3" height="8.3" fill="#404040"/>
<rect x="1569.73" y="537.85" width="8.3" height="8.3" fill="#404040"/>
<circle cx="1072.4" cy="655" r="4.5" fill="#ec3038"/>
<circle cx="1128.12" cy="560.2" r="4.5" fill="#ec3038"/>
<circle cx="1183.84" cy="776" r="4.5" fill="#ec3038"/>
<circle cx="1239.56" cy="776" r="4.5" fill="#ec3038"/>
<circle cx="1295.28" cy="850.8" r="4.5" fill="#ec3038"/>
<circle cx="1351" cy="850.8" r="4.5" fill="#ec3038"/>
<circle cx="1406.72" cy="888.2" r="4.5" fill="#ec3038"/>
<circle cx="1462.44" cy="888.2" r="4.5" fill="#ec3038"/>
<circle cx="1518.16" cy="910.8" r="4.5" fill="#ec3038"/>
<circle cx="1573.88" cy="910.8" r="4.5" fill="#ec3038"/>
<line x1="1440.6" y1="928" x2="1450.2" y2="928" stroke="#666" stroke-width="1.2"/>
<line x1="1463" y1="928" x2="1473" y2="928" stroke="#666" stroke-width="1.2"/>
<rect x="1452.45" y="923.85" width="8.3" height="8.3" fill="#404040"/>
<line x1="1440.6" y1="945.6" x2="1450.2" y2="945.6" stroke="#f06065" stroke-width="1.2"/>
<line x1="1463" y1="945.6" x2="1473" y2="945.6" stroke="#f06065" stroke-width="1.2"/>
<circle cx="1456.6" cy="945.6" r="4.5" fill="#ec3038"/>
</g>
<g filter="url(#b3)">
<line x1="605.4" y1="2.9" x2="605.4" y2="443.1" stroke="#f01c1c" stroke-width="2.1"/>
<line x1="605.4" y1="414.7" x2="613.4" y2="414.7" stroke="#f01c1c" stroke-width="2.2"/>
<text transform="translate(620 420.7) scale(0.95 1)" font-size="18.6" fill="#f01c1c" text-anchor="start" stroke="#f01c1c" stroke-width="0.3">12</text>
<line x1="605.4" y1="387.33" x2="609.9" y2="387.33" stroke="#f01c1c" stroke-width="2.2"/>
<line x1="605.4" y1="359.96" x2="613.4" y2="359.96" stroke="#f01c1c" stroke-width="2.2"/>
<text transform="translate(620 365.96) scale(0.95 1)" font-size="18.6" fill="#f01c1c" text-anchor="start" stroke="#f01c1c" stroke-width="0.3">14</text>
<line x1="605.4" y1="332.59" x2="609.9" y2="332.59" stroke="#f01c1c" stroke-width="2.2"/>
<line x1="605.4" y1="305.22" x2="613.4" y2="305.22" stroke="#f01c1c" stroke-width="2.2"/>
<text transform="translate(620 311.22) scale(0.95 1)" font-size="18.6" fill="#f01c1c" text-anchor="start" stroke="#f01c1c" stroke-width="0.3">16</text>
<line x1="605.4" y1="277.85" x2="609.9" y2="277.85" stroke="#f01c1c" stroke-width="2.2"/>
<line x1="605.4" y1="250.48" x2="613.4" y2="250.48" stroke="#f01c1c" stroke-width="2.2"/>
<text transform="translate(620 256.48) scale(0.95 1)" font-size="18.6" fill="#f01c1c" text-anchor="start" stroke="#f01c1c" stroke-width="0.3">18</text>
<line x1="605.4" y1="223.11" x2="609.9" y2="223.11" stroke="#f01c1c" stroke-width="2.2"/>
<line x1="605.4" y1="195.74" x2="613.4" y2="195.74" stroke="#f01c1c" stroke-width="2.2"/>
<text transform="translate(620 201.74) scale(0.95 1)" font-size="18.6" fill="#f01c1c" text-anchor="start" stroke="#f01c1c" stroke-width="0.3">20</text>
<line x1="605.4" y1="168.37" x2="609.9" y2="168.37" stroke="#f01c1c" stroke-width="2.2"/>
<line x1="605.4" y1="141" x2="613.4" y2="141" stroke="#f01c1c" stroke-width="2.2"/>
<text transform="translate(620 147) scale(0.95 1)" font-size="18.6" fill="#f01c1c" text-anchor="start" stroke="#f01c1c" stroke-width="0.3">22</text>
<line x1="605.4" y1="113.63" x2="609.9" y2="113.63" stroke="#f01c1c" stroke-width="2.2"/>
<line x1="605.4" y1="86.26" x2="613.4" y2="86.26" stroke="#f01c1c" stroke-width="2.2"/>
<text transform="translate(620 92.26) scale(0.95 1)" font-size="18.6" fill="#f01c1c" text-anchor="start" stroke="#f01c1c" stroke-width="0.3">24</text>
<line x1="605.4" y1="58.89" x2="609.9" y2="58.89" stroke="#f01c1c" stroke-width="2.2"/>
<line x1="605.4" y1="31.52" x2="613.4" y2="31.52" stroke="#f01c1c" stroke-width="2.2"/>
<text transform="translate(620 37.52) scale(0.95 1)" font-size="18.6" fill="#f01c1c" text-anchor="start" stroke="#f01c1c" stroke-width="0.3">26</text>
<text transform="translate(660 219) rotate(-90)" font-size="22.8" fill="#f01c1c" text-anchor="middle" stroke="#f01c1c" stroke-width="0.3">Adsorption capacity (mg/g)</text>
<line x1="1266.4" y1="9.9" x2="1266.4" y2="446.4" stroke="#f01c1c" stroke-width="2.1"/>
<line x1="1266.4" y1="445.6" x2="1274.4" y2="445.6" stroke="#f01c1c" stroke-width="2.2"/>
<text transform="translate(1281 451.6) scale(0.95 1)" font-size="18.6" fill="#f01c1c" text-anchor="start" stroke="#f01c1c" stroke-width="0.3">48</text>
<line x1="1266.4" y1="412.08" x2="1270.9" y2="412.08" stroke="#f01c1c" stroke-width="2.2"/>
<line x1="1266.4" y1="378.55" x2="1274.4" y2="378.55" stroke="#f01c1c" stroke-width="2.2"/>
<text transform="translate(1281 384.55) scale(0.95 1)" font-size="18.6" fill="#f01c1c" text-anchor="start" stroke="#f01c1c" stroke-width="0.3">49</text>
<line x1="1266.4" y1="345.03" x2="1270.9" y2="345.03" stroke="#f01c1c" stroke-width="2.2"/>
<line x1="1266.4" y1="311.5" x2="1274.4" y2="311.5" stroke="#f01c1c" stroke-width="2.2"/>
<text transform="translate(1281 317.5) scale(0.95 1)" font-size="18.6" fill="#f01c1c" text-anchor="start" stroke="#f01c1c" stroke-width="0.3">50</text>
<line x1="1266.4" y1="277.98" x2="1270.9" y2="277.98" stroke="#f01c1c" stroke-width="2.2"/>
<line x1="1266.4" y1="244.45" x2="1274.4" y2="244.45" stroke="#f01c1c" stroke-width="2.2"/>
<text transform="translate(1281 250.45) scale(0.95 1)" font-size="18.6" fill="#f01c1c" text-anchor="start" stroke="#f01c1c" stroke-width="0.3">51</text>
<line x1="1266.4" y1="210.93" x2="1270.9" y2="210.93" stroke="#f01c1c" stroke-width="2.2"/>
<line x1="1266.4" y1="177.4" x2="1274.4" y2="177.4" stroke="#f01c1c" stroke-width="2.2"/>
<text transform="translate(1281 183.4) scale(0.95 1)" font-size="18.6" fill="#f01c1c" text-anchor="start" stroke="#f01c1c" stroke-width="0.3">52</text>
<line x1="1266.4" y1="143.88" x2="1270.9" y2="143.88" stroke="#f01c1c" stroke-width="2.2"/>
<line x1="1266.4" y1="110.35" x2="1274.4" y2="110.35" stroke="#f01c1c" stroke-width="2.2"/>
<text transform="translate(1281 116.35) scale(0.95 1)" font-size="18.6" fill="#f01c1c" text-anchor="start" stroke="#f01c1c" stroke-width="0.3">53</text>
<line x1="1266.4" y1="76.83" x2="1270.9" y2="76.83" stroke="#f01c1c" stroke-width="2.2"/>
<line x1="1266.4" y1="43.3" x2="1274.4" y2="43.3" stroke="#f01c1c" stroke-width="2.2"/>
<text transform="translate(1281 49.3) scale(0.95 1)" font-size="18.6" fill="#f01c1c" text-anchor="start" stroke="#f01c1c" stroke-width="0.3">54</text>
<text transform="translate(1321 234) rotate(-90)" font-size="22.8" fill="#f01c1c" text-anchor="middle" stroke="#f01c1c" stroke-width="0.3">Adsorption capacity (mg/g)</text>
<line x1="1936" y1="9.3" x2="1936" y2="452.3" stroke="#f01c1c" stroke-width="2.1"/>
<line x1="1936" y1="451.5" x2="1944" y2="451.5" stroke="#f01c1c" stroke-width="2.2"/>
<text transform="translate(1949 457.5) scale(0.95 1)" font-size="18.6" fill="#f01c1c" text-anchor="start" stroke="#f01c1c" stroke-width="0.3">0</text>
<line x1="1936" y1="411.35" x2="1940.5" y2="411.35" stroke="#f01c1c" stroke-width="2.2"/>
<line x1="1936" y1="371.2" x2="1944" y2="371.2" stroke="#f01c1c" stroke-width="2.2"/>
<text transform="translate(1949 377.2) scale(0.95 1)" font-size="18.6" fill="#f01c1c" text-anchor="start" stroke="#f01c1c" stroke-width="0.3">10</text>
<line x1="1936" y1="331.05" x2="1940.5" y2="331.05" stroke="#f01c1c" stroke-width="2.2"/>
<line x1="1936" y1="290.9" x2="1944" y2="290.9" stroke="#f01c1c" stroke-width="2.2"/>
<text transform="translate(1949 296.9) scale(0.95 1)" font-size="18.6" fill="#f01c1c" text-anchor="start" stroke="#f01c1c" stroke-width="0.3">20</text>
<line x1="1936" y1="250.75" x2="1940.5" y2="250.75" stroke="#f01c1c" stroke-width="2.2"/>
<line x1="1936" y1="210.6" x2="1944" y2="210.6" stroke="#f01c1c" stroke-width="2.2"/>
<text transform="translate(1949 216.6) scale(0.95 1)" font-size="18.6" fill="#f01c1c" text-anchor="start" stroke="#f01c1c" stroke-width="0.3">30</text>
<line x1="1936" y1="170.45" x2="1940.5" y2="170.45" stroke="#f01c1c" stroke-width="2.2"/>
<line x1="1936" y1="130.3" x2="1944" y2="130.3" stroke="#f01c1c" stroke-width="2.2"/>
<text transform="translate(1949 136.3) scale(0.95 1)" font-size="18.6" fill="#f01c1c" text-anchor="start" stroke="#f01c1c" stroke-width="0.3">40</text>
<line x1="1936" y1="90.15" x2="1940.5" y2="90.15" stroke="#f01c1c" stroke-width="2.2"/>
<line x1="1936" y1="50" x2="1944" y2="50" stroke="#f01c1c" stroke-width="2.2"/>
<text transform="translate(1949 56) scale(0.95 1)" font-size="18.6" fill="#f01c1c" text-anchor="start" stroke="#f01c1c" stroke-width="0.3">50</text>
<text transform="translate(1990 243.5) rotate(-90)" font-size="22.8" fill="#f01c1c" text-anchor="middle" stroke="#f01c1c" stroke-width="0.3">Adsorption capacity (mg/g)</text>
<line x1="901.6" y1="519.5" x2="901.6" y2="951.7" stroke="#e62a32" stroke-width="2.1"/>
<line x1="901.6" y1="950.6" x2="909.6" y2="950.6" stroke="#e62a32" stroke-width="2.2"/>
<text transform="translate(916.5 956.6) scale(0.95 1)" font-size="18.6" fill="#e62a32" text-anchor="start" stroke="#e62a32" stroke-width="0.3">0</text>
<line x1="901.6" y1="929.1" x2="906.1" y2="929.1" stroke="#e62a32" stroke-width="2.2"/>
<line x1="901.6" y1="907.6" x2="909.6" y2="907.6" stroke="#e62a32" stroke-width="2.2"/>
<text transform="translate(916.5 913.6) scale(0.95 1)" font-size="18.6" fill="#e62a32" text-anchor="start" stroke="#e62a32" stroke-width="0.3">5</text>
<line x1="901.6" y1="886.1" x2="906.1" y2="886.1" stroke="#e62a32" stroke-width="2.2"/>
<line x1="901.6" y1="864.6" x2="909.6" y2="864.6" stroke="#e62a32" stroke-width="2.2"/>
<text transform="translate(916.5 870.6) scale(0.95 1)" font-size="18.6" fill="#e62a32" text-anchor="start" stroke="#e62a32" stroke-width="0.3">10</text>
<line x1="901.6" y1="843.1" x2="906.1" y2="843.1" stroke="#e62a32" stroke-width="2.2"/>
<line x1="901.6" y1="821.6" x2="909.6" y2="821.6" stroke="#e62a32" stroke-width="2.2"/>
<text transform="translate(916.5 827.6) scale(0.95 1)" font-size="18.6" fill="#e62a32" text-anchor="start" stroke="#e62a32" stroke-width="0.3">15</text>
<line x1="901.6" y1="800.1" x2="906.1" y2="800.1" stroke="#e62a32" stroke-width="2.2"/>
<line x1="901.6" y1="778.6" x2="909.6" y2="778.6" stroke="#e62a32" stroke-width="2.2"/>
<text transform="translate(916.5 784.6) scale(0.95 1)" font-size="18.6" fill="#e62a32" text-anchor="start" stroke="#e62a32" stroke-width="0.3">20</text>
<line x1="901.6" y1="757.1" x2="906.1" y2="757.1" stroke="#e62a32" stroke-width="2.2"/>
<line x1="901.6" y1="735.6" x2="909.6" y2="735.6" stroke="#e62a32" stroke-width="2.2"/>
<text transform="translate(916.5 741.6) scale(0.95 1)" font-size="18.6" fill="#e62a32" text-anchor="start" stroke="#e62a32" stroke-width="0.3">25</text>
<line x1="901.6" y1="714.1" x2="906.1" y2="714.1" stroke="#e62a32" stroke-width="2.2"/>
<line x1="901.6" y1="692.6" x2="909.6" y2="692.6" stroke="#e62a32" stroke-width="2.2"/>
<text transform="translate(916.5 698.6) scale(0.95 1)" font-size="18.6" fill="#e62a32" text-anchor="start" stroke="#e62a32" stroke-width="0.3">30</text>
<line x1="901.6" y1="671.1" x2="906.1" y2="671.1" stroke="#e62a32" stroke-width="2.2"/>
<line x1="901.6" y1="649.6" x2="909.6" y2="649.6" stroke="#e62a32" stroke-width="2.2"/>
<text transform="translate(916.5 655.6) scale(0.95 1)" font-size="18.6" fill="#e62a32" text-anchor="start" stroke="#e62a32" stroke-width="0.3">35</text>
<line x1="901.6" y1="628.1" x2="906.1" y2="628.1" stroke="#e62a32" stroke-width="2.2"/>
<line x1="901.6" y1="606.6" x2="909.6" y2="606.6" stroke="#e62a32" stroke-width="2.2"/>
<text transform="translate(916.5 612.6) scale(0.95 1)" font-size="18.6" fill="#e62a32" text-anchor="start" stroke="#e62a32" stroke-width="0.3">40</text>
<line x1="901.6" y1="585.1" x2="906.1" y2="585.1" stroke="#e62a32" stroke-width="2.2"/>
<line x1="901.6" y1="563.6" x2="909.6" y2="563.6" stroke="#e62a32" stroke-width="2.2"/>
<text transform="translate(916.5 569.6) scale(0.95 1)" font-size="18.6" fill="#e62a32" text-anchor="start" stroke="#e62a32" stroke-width="0.3">45</text>
<line x1="901.6" y1="542.1" x2="906.1" y2="542.1" stroke="#e62a32" stroke-width="2.2"/>
<line x1="901.6" y1="520.6" x2="909.6" y2="520.6" stroke="#e62a32" stroke-width="2.2"/>
<text transform="translate(916.5 526.6) scale(0.95 1)" font-size="18.6" fill="#e62a32" text-anchor="start" stroke="#e62a32" stroke-width="0.3">50</text>
<text transform="translate(959 723) rotate(-90)" font-size="22.8" fill="#e62a32" text-anchor="middle" stroke="#e62a32" stroke-width="0.3">Adsorption capacity (mg/g)</text>
<line x1="1596.4" y1="513.5" x2="1596.4" y2="956.1" stroke="#e62a32" stroke-width="2.1"/>
<line x1="1596.4" y1="955.55" x2="1600.9" y2="955.55" stroke="#e62a32" stroke-width="2.2"/>
<line x1="1596.4" y1="910.6" x2="1604.4" y2="910.6" stroke="#e62a32" stroke-width="2.2"/>
<text transform="translate(1612 916.6) scale(0.95 1)" font-size="18.6" fill="#e62a32" text-anchor="start" stroke="#e62a32" stroke-width="0.3">10</text>
<line x1="1596.4" y1="865.65" x2="1600.9" y2="865.65" stroke="#e62a32" stroke-width="2.2"/>
<line x1="1596.4" y1="820.7" x2="1604.4" y2="820.7" stroke="#e62a32" stroke-width="2.2"/>
<text transform="translate(1612 826.7) scale(0.95 1)" font-size="18.6" fill="#e62a32" text-anchor="start" stroke="#e62a32" stroke-width="0.3">20</text>
<line x1="1596.4" y1="775.75" x2="1600.9" y2="775.75" stroke="#e62a32" stroke-width="2.2"/>
<line x1="1596.4" y1="730.8" x2="1604.4" y2="730.8" stroke="#e62a32" stroke-width="2.2"/>
<text transform="translate(1612 736.8) scale(0.95 1)" font-size="18.6" fill="#e62a32" text-anchor="start" stroke="#e62a32" stroke-width="0.3">30</text>
<line x1="1596.4" y1="685.85" x2="1600.9" y2="685.85" stroke="#e62a32" stroke-width="2.2"/>
<line x1="1596.4" y1="640.9" x2="1604.4" y2="640.9" stroke="#e62a32" stroke-width="2.2"/>
<text transform="translate(1612 646.9) scale(0.95 1)" font-size="18.6" fill="#e62a32" text-anchor="start" stroke="#e62a32" stroke-width="0.3">40</text>
<line x1="1596.4" y1="595.95" x2="1600.9" y2="595.95" stroke="#e62a32" stroke-width="2.2"/>
<line x1="1596.4" y1="551" x2="1604.4" y2="551" stroke="#e62a32" stroke-width="2.2"/>
<text transform="translate(1612 557) scale(0.95 1)" font-size="18.6" fill="#e62a32" text-anchor="start" stroke="#e62a32" stroke-width="0.3">50</text>
<text transform="translate(1645.5 742) rotate(-90)" font-size="22.8" fill="#e62a32" text-anchor="middle" stroke="#e62a32" stroke-width="0.3">Adsorption capacity (mg/g)</text>
</g>
<g filter="url(#b4)">
<text transform="translate(59 447.4) scale(0.95 1)" font-size="18.6" fill="#333333" text-anchor="end" stroke="#333333" stroke-width="0.2">0</text>
<text transform="translate(59 364) scale(0.95 1)" font-size="18.6" fill="#333333" text-anchor="end" stroke="#333333" stroke-width="0.2">20</text>
<text transform="translate(59 280.6) scale(0.95 1)" font-size="18.6" fill="#333333" text-anchor="end" stroke="#333333" stroke-width="0.2">40</text>
<text transform="translate(59 197.2) scale(0.95 1)" font-size="18.6" fill="#333333" text-anchor="end" stroke="#333333" stroke-width="0.2">60</text>
<text transform="translate(59 113.8) scale(0.95 1)" font-size="18.6" fill="#333333" text-anchor="end" stroke="#333333" stroke-width="0.2">80</text>
<text transform="translate(59 30.4) scale(0.95 1)" font-size="18.6" fill="#333333" text-anchor="end" stroke="#333333" stroke-width="0.2">100</text>
<text transform="translate(112.5 471) scale(0.92 1)" font-size="18.6" fill="#333333" text-anchor="middle" stroke="#333333" stroke-width="0.2">2</text>
<text transform="translate(169.1 471) scale(0.92 1)" font-size="18.6" fill="#333333" text-anchor="middle" stroke="#333333" stroke-width="0.2">3</text>
<text transform="translate(225.7 471) scale(0.92 1)" font-size="18.6" fill="#333333" text-anchor="middle" stroke="#333333" stroke-width="0.2">4</text>
<text transform="translate(282.3 471) scale(0.92 1)" font-size="18.6" fill="#333333" text-anchor="middle" stroke="#333333" stroke-width="0.2">5</text>
<text transform="translate(338.9 471) scale(0.92 1)" font-size="18.6" fill="#333333" text-anchor="middle" stroke="#333333" stroke-width="0.2">6</text>
<text transform="translate(395.5 471) scale(0.92 1)" font-size="18.6" fill="#333333" text-anchor="middle" stroke="#333333" stroke-width="0.2">7</text>
<text transform="translate(452.1 471) scale(0.92 1)" font-size="18.6" fill="#333333" text-anchor="middle" stroke="#333333" stroke-width="0.2">8</text>
<text transform="translate(508.7 471) scale(0.92 1)" font-size="18.6" fill="#333333" text-anchor="middle" stroke="#333333" stroke-width="0.2">9</text>
<text transform="translate(565.3 471) scale(0.92 1)" font-size="18.6" fill="#333333" text-anchor="middle" stroke="#333333" stroke-width="0.2">10</text>
<text transform="translate(338 493)" font-size="22.8" fill="#222" text-anchor="middle" stroke="#222" stroke-width="0.3">pH</text>
<text transform="translate(30.5 223.5) rotate(-90)" font-size="22.8" fill="#222" text-anchor="middle" stroke="#222" stroke-width="0.3">Cr(VI) removal (%)</text>
<text transform="translate(712 450.7) scale(0.95 1)" font-size="18.6" fill="#333333" text-anchor="end" stroke="#333333" stroke-width="0.2">0</text>
<text transform="translate(712 371.68) scale(0.95 1)" font-size="18.6" fill="#333333" text-anchor="end" stroke="#333333" stroke-width="0.2">20</text>
<text transform="translate(712 292.66) scale(0.95 1)" font-size="18.6" fill="#333333" text-anchor="end" stroke="#333333" stroke-width="0.2">40</text>
<text transform="translate(712 213.64) scale(0.95 1)" font-size="18.6" fill="#333333" text-anchor="end" stroke="#333333" stroke-width="0.2">60</text>
<text transform="translate(712 134.62) scale(0.95 1)" font-size="18.6" fill="#333333" text-anchor="end" stroke="#333333" stroke-width="0.2">80</text>
<text transform="translate(712 55.6) scale(0.95 1)" font-size="18.6" fill="#333333" text-anchor="end" stroke="#333333" stroke-width="0.2">100</text>
<text transform="translate(816 474) scale(0.95 1)" font-size="18" fill="#333333" text-anchor="middle" stroke="#333333" stroke-width="0.2">25°C</text>
<text transform="translate(995.8 474) scale(0.95 1)" font-size="18" fill="#333333" text-anchor="middle" stroke="#333333" stroke-width="0.2">35°C</text>
<text transform="translate(1176 474) scale(0.95 1)" font-size="18" fill="#333333" text-anchor="middle" stroke="#333333" stroke-width="0.2">45°C</text>
<text transform="translate(685.5 240) rotate(-90)" font-size="22.8" fill="#000" text-anchor="middle" stroke="#000" stroke-width="0.3">Cr(VI) removal (%)</text>
<text transform="translate(1381 456.6) scale(0.95 1)" font-size="18.6" fill="#333333" text-anchor="end" stroke="#333333" stroke-width="0.2">0</text>
<text transform="translate(1381 372.7) scale(0.95 1)" font-size="18.6" fill="#333333" text-anchor="end" stroke="#333333" stroke-width="0.2">20</text>
<text transform="translate(1381 288.8) scale(0.95 1)" font-size="18.6" fill="#333333" text-anchor="end" stroke="#333333" stroke-width="0.2">40</text>
<text transform="translate(1381 204.9) scale(0.95 1)" font-size="18.6" fill="#333333" text-anchor="end" stroke="#333333" stroke-width="0.2">60</text>
<text transform="translate(1381 121) scale(0.95 1)" font-size="18.6" fill="#333333" text-anchor="end" stroke="#333333" stroke-width="0.2">80</text>
<text transform="translate(1381 37.1) scale(0.95 1)" font-size="18.6" fill="#333333" text-anchor="end" stroke="#333333" stroke-width="0.2">100</text>
<text transform="translate(1440.6 480.5) scale(0.95 1)" font-size="18.6" fill="#333333" text-anchor="middle" stroke="#333333" stroke-width="0.2">10</text>
<text transform="translate(1530.5 480.5) scale(0.95 1)" font-size="18.6" fill="#333333" text-anchor="middle" stroke="#333333" stroke-width="0.2">30</text>
<text transform="translate(1620.4 480.5) scale(0.95 1)" font-size="18.6" fill="#333333" text-anchor="middle" stroke="#333333" stroke-width="0.2">50</text>
<text transform="translate(1710.3 480.5) scale(0.95 1)" font-size="18.6" fill="#333333" text-anchor="middle" stroke="#333333" stroke-width="0.2">70</text>
<text transform="translate(1800.2 480.5) scale(0.95 1)" font-size="18.6" fill="#333333" text-anchor="middle" stroke="#333333" stroke-width="0.2">90</text>
<text transform="translate(1890.1 480.5) scale(0.95 1)" font-size="18.6" fill="#333333" text-anchor="middle" stroke="#333333" stroke-width="0.2">110</text>
<text transform="translate(1665.5 502)" font-size="22.8" fill="#222" text-anchor="middle" stroke="#222" stroke-width="0.3">Cr(VI) concentration (mg/L)</text>
<text transform="translate(1351.5 229.5) rotate(-90)" font-size="22.8" fill="#000" text-anchor="middle" stroke="#000" stroke-width="0.3">Cr(VI) removal (%)</text>
<text transform="translate(355 930.4) scale(0.95 1)" font-size="18.6" fill="#5a5a5a" text-anchor="end" stroke="#5a5a5a" stroke-width="0.2">20</text>
<text transform="translate(355 829.3) scale(0.95 1)" font-size="18.6" fill="#5a5a5a" text-anchor="end" stroke="#5a5a5a" stroke-width="0.2">40</text>
<text transform="translate(355 728.2) scale(0.95 1)" font-size="18.6" fill="#5a5a5a" text-anchor="end" stroke="#5a5a5a" stroke-width="0.2">60</text>
<text transform="translate(355 627.1) scale(0.95 1)" font-size="18.6" fill="#5a5a5a" text-anchor="end" stroke="#5a5a5a" stroke-width="0.2">80</text>
<text transform="translate(355 526) scale(0.95 1)" font-size="18.6" fill="#5a5a5a" text-anchor="end" stroke="#5a5a5a" stroke-width="0.2">100</text>
<text transform="translate(369.6 978.5)" font-size="18.6" fill="#444" text-anchor="middle" stroke="#444" stroke-width="0.2">0</text>
<text transform="translate(421.9 978.5)" font-size="18.6" fill="#444" text-anchor="middle" stroke="#444" stroke-width="0.2">30</text>
<text transform="translate(474.2 978.5)" font-size="18.6" fill="#444" text-anchor="middle" stroke="#444" stroke-width="0.2">60</text>
<text transform="translate(526.5 978.5)" font-size="18.6" fill="#444" text-anchor="middle" stroke="#444" stroke-width="0.2">90</text>
<text transform="translate(578.8 978.5)" font-size="18.6" fill="#444" text-anchor="middle" stroke="#444" stroke-width="0.2">120</text>
<text transform="translate(631.1 978.5)" font-size="18.6" fill="#444" text-anchor="middle" stroke="#444" stroke-width="0.2">150</text>
<text transform="translate(683.39 978.5)" font-size="18.6" fill="#444" text-anchor="middle" stroke="#444" stroke-width="0.2">180</text>
<text transform="translate(735.69 978.5)" font-size="18.6" fill="#444" text-anchor="middle" stroke="#444" stroke-width="0.2">210</text>
<text transform="translate(787.99 978.5)" font-size="18.6" fill="#444" text-anchor="middle" stroke="#444" stroke-width="0.2">240</text>
<text transform="translate(840.29 978.5)" font-size="18.6" fill="#444" text-anchor="middle" stroke="#444" stroke-width="0.2">270</text>
<text transform="translate(892.59 978.5)" font-size="18.6" fill="#444" text-anchor="middle" stroke="#444" stroke-width="0.2">300</text>
<text transform="translate(784.5 927)" font-size="14.2" fill="#505050" text-anchor="start" stroke="#505050" stroke-width="0.2">Percentage removal</text>
<text transform="translate(784.5 944.8)" font-size="14.2" fill="#505050" text-anchor="start" stroke="#505050" stroke-width="0.2">Adsorption capacity</text>
<text transform="translate(641 1007)" font-size="22.8" fill="#333" text-anchor="middle" stroke="#333" stroke-width="0.3">Time (min)</text>
<text transform="translate(326 732) rotate(-90)" font-size="22.3" fill="#222" text-anchor="middle" stroke="#222" stroke-width="0.3">Cr(VI) removal (%)</text>
<text transform="translate(1035 960.4) scale(0.95 1)" font-size="18.6" fill="#5a5a5a" text-anchor="end" stroke="#5a5a5a" stroke-width="0.2">75</text>
<text transform="translate(1035 877.4) scale(0.95 1)" font-size="18.6" fill="#5a5a5a" text-anchor="end" stroke="#5a5a5a" stroke-width="0.2">80</text>
<text transform="translate(1035 794.4) scale(0.95 1)" font-size="18.6" fill="#5a5a5a" text-anchor="end" stroke="#5a5a5a" stroke-width="0.2">85</text>
<text transform="translate(1035 711.4) scale(0.95 1)" font-size="18.6" fill="#5a5a5a" text-anchor="end" stroke="#5a5a5a" stroke-width="0.2">90</text>
<text transform="translate(1035 628.4) scale(0.95 1)" font-size="18.6" fill="#5a5a5a" text-anchor="end" stroke="#5a5a5a" stroke-width="0.2">95</text>
<text transform="translate(1035 545.4) scale(0.95 1)" font-size="18.6" fill="#5a5a5a" text-anchor="end" stroke="#5a5a5a" stroke-width="0.2">100</text>
<text transform="translate(1072.4 984.5)" font-size="19.6" fill="#333" text-anchor="middle" stroke="#333" stroke-width="0.2">0.05</text>
<text transform="translate(1128.12 984.5)" font-size="19.6" fill="#333" text-anchor="middle" stroke="#333" stroke-width="0.2">0.10</text>
<text transform="translate(1183.84 984.5)" font-size="19.6" fill="#333" text-anchor="middle" stroke="#333" stroke-width="0.2">0.15</text>
<text transform="translate(1239.56 984.5)" font-size="19.6" fill="#333" text-anchor="middle" stroke="#333" stroke-width="0.2">0.20</text>
<text transform="translate(1295.28 984.5)" font-size="19.6" fill="#333" text-anchor="middle" stroke="#333" stroke-width="0.2">0.25</text>
<text transform="translate(1351 984.5)" font-size="19.6" fill="#333" text-anchor="middle" stroke="#333" stroke-width="0.2">0.30</text>
<text transform="translate(1406.72 984.5)" font-size="19.6" fill="#333" text-anchor="middle" stroke="#333" stroke-width="0.2">0.35</text>
<text transform="translate(1462.44 984.5)" font-size="19.6" fill="#333" text-anchor="middle" stroke="#333" stroke-width="0.2">0.40</text>
<text transform="translate(1518.16 984.5)" font-size="19.6" fill="#333" text-anchor="middle" stroke="#333" stroke-width="0.2">0.45</text>
<text transform="translate(1573.88 984.5)" font-size="19.6" fill="#333" text-anchor="middle" stroke="#333" stroke-width="0.2">0.50</text>
<text transform="translate(1477 932.6)" font-size="14.7" fill="#444" text-anchor="start" stroke="#444" stroke-width="0.2">Cr(VI) removal (%)</text>
<text transform="translate(1477 950.6)" font-size="14.7" fill="#444" text-anchor="start" stroke="#444" stroke-width="0.2">Adsorption capacity</text>
<text transform="translate(1323.5 1006)" font-size="22.8" fill="#222" text-anchor="middle" stroke="#222" stroke-width="0.3">Adsorbent dosage (g/50mL)</text>
<text transform="translate(1008 742) rotate(-90)" font-size="22.8" fill="#222" text-anchor="middle" stroke="#222" stroke-width="0.3">Cr(VI) removal (%)</text>
</g>
<g filter="url(#b2)">
<text transform="translate(567 38.3) scale(1.06 1)" font-size="35.5" fill="#000" text-anchor="middle" font-weight="bold" stroke="#000" stroke-width="0.2">(a)</text>
<text transform="translate(1232.5 42.3) scale(1.06 1)" font-size="35.7" fill="#000" text-anchor="middle" font-weight="bold" stroke="#000" stroke-width="0.2">(b)</text>
<text transform="translate(1907.5 42.3) scale(1.06 1)" font-size="35.7" fill="#000" text-anchor="middle" font-weight="bold" stroke="#000" stroke-width="0.2">(c)</text>
<text transform="translate(407 560.3) scale(1.06 1)" font-size="35.7" fill="#000" text-anchor="middle" font-weight="bold" stroke="#000" stroke-width="0.2">(d)</text>
<text transform="translate(1087 555.3) scale(1.06 1)" font-size="35.7" fill="#000" text-anchor="middle" font-weight="bold" stroke="#000" stroke-width="0.2">(e)</text>
</g>
</svg>
</body></html>
